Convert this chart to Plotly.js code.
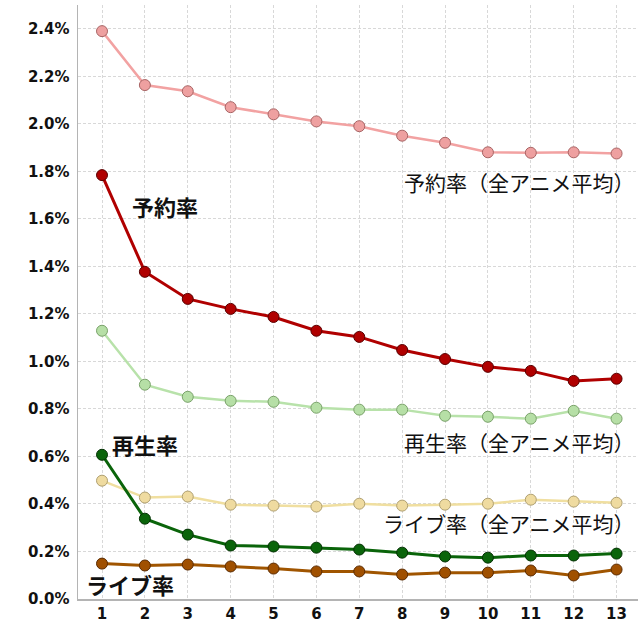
<!DOCTYPE html>
<html>
<head>
<meta charset="utf-8">
<script src="https://cdn.plot.ly/plotly-3.0.1.min.js"></script>
<style>
  html, body { margin: 0; padding: 0; background: #fff; }
  #chart { width: 640px; height: 640px; }
</style>
</head>
<body>
<div id="chart"></div>
<script>
// 話数 (episode number)
var episodes = [1, 2, 3, 4, 5, 6, 7, 8, 9, 10, 11, 12, 13];

// values in %
var reserveAvg = [2.39, 2.163, 2.137, 2.07, 2.04, 2.01, 1.99, 1.95, 1.92, 1.88, 1.878, 1.88, 1.875];
var reserve    = [1.784, 1.377, 1.263, 1.221, 1.187, 1.129, 1.103, 1.048, 1.01, 0.977, 0.96, 0.918, 0.927];
var playAvg    = [1.129, 0.902, 0.851, 0.834, 0.83, 0.805, 0.797, 0.797, 0.771, 0.767, 0.759, 0.792, 0.759];
var play       = [0.607, 0.338, 0.271, 0.225, 0.221, 0.216, 0.208, 0.195, 0.179, 0.174, 0.183, 0.183, 0.191];
var liveAvg    = [0.498, 0.427, 0.431, 0.397, 0.393, 0.389, 0.401, 0.393, 0.397, 0.401, 0.418, 0.41, 0.405];
var live       = [0.149, 0.141, 0.145, 0.137, 0.128, 0.116, 0.116, 0.103, 0.111, 0.111, 0.12, 0.099, 0.124];

var yTicks = [0, 0.2, 0.4, 0.6, 0.8, 1.0, 1.2, 1.4, 1.6, 1.8, 2.0, 2.2, 2.4];
var yTickText = yTicks.map(function (v) { return v.toFixed(1) + '%'; });

function series(y, line, fill, edge, w) {
  return {
    x: episodes, y: y, type: 'scatter', mode: 'lines+markers',
    line: { color: line, width: w },
    marker: { size: 11, color: fill, line: { color: edge, width: 1 } },
    cliponaxis: false
  };
}

var data = [
  series(reserveAvg, '#f2a2a2', '#eea0a0', '#a86464', 2.5),
  series(playAvg, '#b8e2aa', '#b6dfa6', '#7aa26a', 2.5),
  series(liveAvg, '#f0dfa0', '#efdba0', '#b0a070', 2.5),
  series(reserve, '#b00000', '#b00000', '#5a0000', 3),
  series(play, '#0a640a', '#0a640a', '#033003', 3),
  series(live, '#a05500', '#a05000', '#5a2a00', 3)
];

var jp = 'Noto Sans CJK JP, sans-serif';
var boldJp = { family: jp, size: 22, color: '#111', weight: 700 };
var thinJp = { family: jp, size: 21, color: '#111' };
var tickFont = { family: 'DejaVu Sans, Verdana, sans-serif', size: 15, color: '#111', weight: 'bold' };

var layout = {
  width: 640, height: 640,
  margin: { l: 78, r: 2, t: 5, b: 41 },
  paper_bgcolor: '#fff', plot_bgcolor: '#fff',
  showlegend: false,
  font: { family: 'DejaVu Sans, Verdana, sans-serif', size: 14, color: '#111' },
  xaxis: {
    range: [0.44, 13.5],
    tickvals: episodes,
    tickfont: tickFont,
    showgrid: true, gridcolor: '#d8d8d8', griddash: '3px,2px', gridwidth: 1,
    showline: true, linecolor: '#b4b4b4', linewidth: 1.5,
    zeroline: false, ticks: ''
  },
  yaxis: {
    range: [0, 2.5],
    tickvals: yTicks,
    ticktext: yTickText,
    tickfont: tickFont,
    showgrid: true, gridcolor: '#d8d8d8', griddash: '3px,2px', gridwidth: 1,
    showline: true, linecolor: '#b4b4b4', linewidth: 1.5,
    zeroline: false, ticks: '', ticklabelstandoff: 4
  },
  annotations: [
    { text: '予約率', x: 2.47, y: 1.656, xref: 'x', yref: 'y', showarrow: false, font: boldJp },
    { text: '再生率', x: 2.0, y: 0.654, xref: 'x', yref: 'y', showarrow: false, font: boldJp },
    { text: 'ライブ率', x: 1.65, y: 0.065, xref: 'x', yref: 'y', showarrow: false, font: boldJp },
    { text: '予約率（全アニメ平均）', x: 13.47, y: 1.753, xref: 'x', yref: 'y', xanchor: 'right', showarrow: false, font: thinJp },
    { text: '再生率（全アニメ平均）', x: 13.47, y: 0.659, xref: 'x', yref: 'y', xanchor: 'right', showarrow: false, font: thinJp },
    { text: 'ライブ率（全アニメ平均）', x: 13.47, y: 0.318, xref: 'x', yref: 'y', xanchor: 'right', showarrow: false, font: thinJp },
    { text: '話数', x: 0.02, y: -0.078, xref: 'x', yref: 'y', showarrow: false,
      font: { family: jp, size: 19, color: '#111', weight: 700 } }
  ]
};

Plotly.newPlot('chart', data, layout, { displayModeBar: false, staticPlot: true });
</script>
</body>
</html>
